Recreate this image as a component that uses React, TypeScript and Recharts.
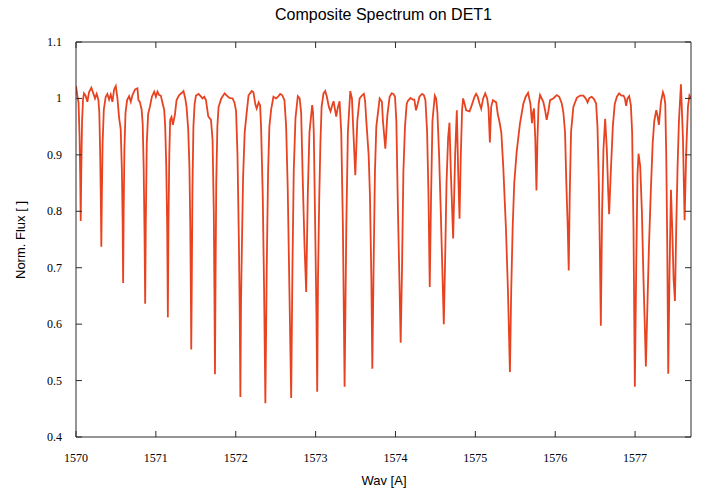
import { LineChart, Line, XAxis, YAxis } from 'recharts'

// [wavelength (A), normalised flux], one block per angstrom
const seg1570 = [
  [1570.0, 1.022], [1570.018, 1.004], [1570.032, 0.992], [1570.045, 0.93], [1570.053, 0.86],
  [1570.059, 0.783], [1570.066, 0.87], [1570.076, 0.96], [1570.088, 0.998], [1570.1, 1.009],
  [1570.12, 1.005], [1570.142, 0.994], [1570.163, 1.011], [1570.192, 1.019], [1570.217, 1.009],
  [1570.238, 1.0], [1570.259, 1.008], [1570.28, 0.998], [1570.292, 0.975], [1570.303, 0.9],
  [1570.311, 0.82], [1570.317, 0.737], [1570.324, 0.83], [1570.333, 0.92], [1570.348, 0.98],
  [1570.372, 1.003], [1570.393, 1.008], [1570.414, 0.998], [1570.435, 1.007], [1570.456, 0.994],
  [1570.477, 1.016], [1570.498, 1.022], [1570.519, 1.0], [1570.54, 0.965], [1570.56, 0.945],
  [1570.575, 0.87], [1570.584, 0.78], [1570.59, 0.673], [1570.597, 0.8], [1570.606, 0.91],
  [1570.62, 0.975], [1570.64, 0.997], [1570.665, 1.004], [1570.686, 0.994], [1570.707, 1.006],
  [1570.74, 1.016], [1570.769, 1.018], [1570.782, 0.997], [1570.799, 0.994], [1570.822, 0.98],
  [1570.835, 0.955], [1570.847, 0.88], [1570.858, 0.76], [1570.866, 0.636], [1570.874, 0.78],
  [1570.886, 0.92], [1570.903, 0.972], [1570.925, 0.985], [1570.95, 1.003], [1570.979, 1.012],
]

const seg1571 = [
  [1571.0, 1.003], [1571.02, 1.012], [1571.041, 1.006], [1571.062, 1.005], [1571.083, 0.992],
  [1571.104, 0.98], [1571.117, 0.95], [1571.13, 0.88], [1571.142, 0.77], [1571.15, 0.612],
  [1571.158, 0.78], [1571.168, 0.9], [1571.179, 0.962], [1571.196, 0.967], [1571.213, 0.953],
  [1571.238, 0.971], [1571.259, 0.997], [1571.292, 1.006], [1571.326, 1.01], [1571.346, 1.013],
  [1571.368, 1.0], [1571.384, 0.985], [1571.405, 0.945], [1571.42, 0.88], [1571.431, 0.77],
  [1571.438, 0.66], [1571.443, 0.555], [1571.45, 0.68], [1571.458, 0.84], [1571.47, 0.95],
  [1571.485, 0.99], [1571.502, 1.005], [1571.535, 1.008], [1571.56, 1.004], [1571.585, 1.0],
  [1571.606, 1.003], [1571.627, 0.997], [1571.656, 0.968], [1571.69, 0.962], [1571.71, 0.926],
  [1571.725, 0.8], [1571.733, 0.66], [1571.74, 0.511], [1571.747, 0.68], [1571.756, 0.85],
  [1571.77, 0.95], [1571.785, 0.985], [1571.819, 1.0], [1571.861, 1.009], [1571.895, 1.004],
  [1571.92, 1.001], [1571.961, 1.0], [1571.985, 0.992],
]

const seg1572 = [
  [1572.004, 0.978], [1572.022, 0.9], [1572.04, 0.74], [1572.05, 0.62], [1572.058, 0.471],
  [1572.066, 0.64], [1572.075, 0.72], [1572.092, 0.86], [1572.112, 0.94], [1572.137, 0.975],
  [1572.16, 1.005], [1572.179, 1.009], [1572.2, 1.013], [1572.221, 1.011], [1572.246, 0.989],
  [1572.262, 0.982], [1572.287, 0.993], [1572.305, 0.988], [1572.317, 0.95], [1572.338, 0.83],
  [1572.355, 0.66], [1572.371, 0.46], [1572.388, 0.7], [1572.405, 0.87], [1572.421, 0.95],
  [1572.443, 0.98], [1572.472, 1.003], [1572.505, 1.0], [1572.53, 1.003], [1572.556, 1.008],
  [1572.581, 1.006], [1572.61, 0.997], [1572.631, 0.95], [1572.651, 0.84], [1572.672, 0.66],
  [1572.694, 0.469], [1572.71, 0.7], [1572.726, 0.87], [1572.748, 0.965], [1572.777, 1.004],
  [1572.8, 1.0], [1572.819, 0.975], [1572.84, 0.85], [1572.861, 0.74], [1572.882, 0.657],
  [1572.902, 0.83], [1572.923, 0.94], [1572.957, 0.988], [1572.968, 0.975], [1572.977, 0.94],
  [1572.995, 0.77],
]

const seg1573 = [
  [1573.01, 0.62], [1573.02, 0.48], [1573.03, 0.68], [1573.045, 0.82], [1573.06, 0.92],
  [1573.075, 0.985], [1573.099, 1.009], [1573.12, 1.013], [1573.141, 1.003], [1573.166, 0.985],
  [1573.187, 0.977], [1573.208, 0.988], [1573.225, 0.995], [1573.241, 0.982], [1573.258, 0.968],
  [1573.28, 0.985], [1573.3, 0.995], [1573.321, 0.94], [1573.342, 0.77], [1573.363, 0.489],
  [1573.384, 0.77], [1573.404, 0.94], [1573.434, 1.013], [1573.455, 1.0], [1573.467, 0.96],
  [1573.497, 0.864], [1573.522, 0.96], [1573.551, 1.0], [1573.585, 1.006], [1573.605, 1.008],
  [1573.62, 0.995], [1573.635, 0.96], [1573.664, 0.9], [1573.68, 0.83], [1573.698, 0.68],
  [1573.71, 0.521], [1573.726, 0.7], [1573.743, 0.87], [1573.76, 0.95], [1573.802, 1.0],
  [1573.83, 0.994], [1573.843, 0.96], [1573.873, 0.911], [1573.898, 0.97], [1573.927, 1.003],
  [1573.952, 1.009], [1573.975, 1.008], [1573.994, 1.003],
]

const seg1574 = [
  [1574.011, 0.96], [1574.031, 0.8], [1574.049, 0.68], [1574.065, 0.567], [1574.082, 0.7],
  [1574.099, 0.87], [1574.119, 0.95], [1574.14, 0.99], [1574.153, 0.995], [1574.187, 1.001],
  [1574.216, 0.998], [1574.236, 0.998], [1574.257, 0.979], [1574.278, 0.99], [1574.3, 1.003],
  [1574.333, 1.008], [1574.355, 1.006], [1574.375, 0.997], [1574.396, 0.94], [1574.413, 0.83],
  [1574.429, 0.666], [1574.446, 0.83], [1574.463, 0.96], [1574.492, 1.005], [1574.509, 1.0],
  [1574.525, 0.975], [1574.546, 0.9], [1574.567, 0.8], [1574.588, 0.69], [1574.605, 0.6],
  [1574.621, 0.71], [1574.639, 0.85], [1574.659, 0.93], [1574.676, 0.957], [1574.693, 0.87],
  [1574.722, 0.752], [1574.747, 0.9], [1574.768, 0.979], [1574.785, 0.87], [1574.802, 0.787],
  [1574.818, 0.9], [1574.834, 0.98], [1574.847, 1.0], [1574.864, 0.991], [1574.885, 0.979],
  [1574.927, 0.977], [1574.948, 0.985], [1574.969, 0.994], [1574.99, 1.003],
]

const seg1575 = [
  [1575.01, 1.008], [1575.03, 1.003], [1575.052, 0.991], [1575.073, 0.982], [1575.098, 1.0],
  [1575.123, 1.009], [1575.148, 1.0], [1575.165, 0.982], [1575.182, 0.922], [1575.198, 0.985],
  [1575.22, 0.997], [1575.24, 0.995], [1575.261, 0.993], [1575.282, 0.971], [1575.3, 0.96],
  [1575.325, 0.94], [1575.349, 0.88], [1575.383, 0.77], [1575.408, 0.66], [1575.433, 0.515],
  [1575.449, 0.66], [1575.467, 0.77], [1575.487, 0.85], [1575.517, 0.905], [1575.558, 0.955],
  [1575.6, 0.99], [1575.63, 1.003], [1575.66, 1.01], [1575.69, 0.99], [1575.709, 0.956],
  [1575.722, 0.975], [1575.734, 0.982], [1575.75, 0.93], [1575.765, 0.837], [1575.778, 0.93],
  [1575.792, 0.99], [1575.81, 1.006], [1575.851, 0.994], [1575.872, 0.98], [1575.893, 0.962],
  [1575.914, 0.977], [1575.935, 0.997], [1575.976, 1.0],
]

const seg1576 = [
  [1576.019, 1.006], [1576.05, 1.003], [1576.082, 0.991], [1576.102, 0.975], [1576.123, 0.94],
  [1576.139, 0.85], [1576.157, 0.77], [1576.169, 0.695], [1576.182, 0.83], [1576.198, 0.94],
  [1576.227, 0.985], [1576.27, 1.001], [1576.311, 1.005], [1576.353, 1.005], [1576.386, 0.999],
  [1576.405, 0.993], [1576.428, 1.001], [1576.457, 1.003], [1576.485, 0.999], [1576.512, 0.991],
  [1576.529, 0.95], [1576.546, 0.85], [1576.558, 0.74], [1576.571, 0.597], [1576.587, 0.8],
  [1576.604, 0.91], [1576.625, 0.964], [1576.646, 0.91], [1576.662, 0.84], [1576.675, 0.795],
  [1576.696, 0.87], [1576.721, 0.95], [1576.745, 0.99], [1576.772, 1.003], [1576.8, 1.009],
  [1576.828, 1.005], [1576.855, 1.005], [1576.872, 1.0], [1576.888, 0.987], [1576.905, 1.0],
  [1576.926, 1.004], [1576.947, 0.988], [1576.963, 0.94], [1576.98, 0.77], [1576.997, 0.489],
]

const seg1577 = [
  [1577.014, 0.7], [1577.03, 0.865], [1577.043, 0.902], [1577.064, 0.88], [1577.085, 0.8],
  [1577.105, 0.68], [1577.123, 0.59], [1577.135, 0.525], [1577.152, 0.62], [1577.173, 0.735],
  [1577.198, 0.84], [1577.22, 0.92], [1577.24, 0.96], [1577.265, 0.979], [1577.28, 0.97],
  [1577.298, 0.953], [1577.324, 0.994], [1577.349, 1.011], [1577.365, 1.004], [1577.378, 0.99],
  [1577.39, 0.9], [1577.402, 0.75], [1577.415, 0.512], [1577.432, 0.7], [1577.449, 0.838],
  [1577.465, 0.77], [1577.482, 0.68], [1577.499, 0.641], [1577.515, 0.77], [1577.532, 0.88],
  [1577.549, 0.96], [1577.574, 1.025], [1577.599, 0.93], [1577.62, 0.784], [1577.641, 0.91],
  [1577.662, 0.985], [1577.68, 1.005], [1577.7, 1.0],
]

const xTicks = [1570, 1571, 1572, 1573, 1574, 1575, 1576, 1577]
const yTicks = [0.4, 0.5, 0.6, 0.7, 0.8, 0.9, 1, 1.1]

const data = [
  ...seg1570, ...seg1571, ...seg1572, ...seg1573,
  ...seg1574, ...seg1575, ...seg1576, ...seg1577,
].map(([wav, flux]) => ({ wav, flux }))

const FRAME = '#2b2b2b'
const SERIF = '"Liberation Serif", "Times New Roman", serif'
const SANS = '"Liberation Sans", Arial, sans-serif'
const TICK_LEN = 6

function BottomTick({ x, y, payload }: any) {
  return (
    <g>
      <line x1={x} x2={x} y1={y} y2={y - TICK_LEN} stroke={FRAME} />
      <text x={x} y={y + 25} textAnchor="middle" fontFamily={SERIF} fontSize={12} fill="#000">
        {payload.value}
      </text>
    </g>
  )
}

function TopTick({ x, y }: any) {
  return <line x1={x} x2={x} y1={y} y2={y + TICK_LEN} stroke={FRAME} />
}

function LeftTick({ x, y, payload }: any) {
  return (
    <g>
      <line x1={x} x2={x + TICK_LEN} y1={y} y2={y} stroke={FRAME} />
      <text x={x - 14} y={y + 4} textAnchor="end" fontFamily={SERIF} fontSize={12} fill="#000">
        {payload.value}
      </text>
    </g>
  )
}

function RightTick({ x, y }: any) {
  return <line x1={x} x2={x - TICK_LEN} y1={y} y2={y} stroke={FRAME} />
}

export default function App() {
  return (
    <div style={{ position: 'absolute', left: 0, top: 0, width: 702, height: 491, background: '#fff' }}>
      <LineChart width={702} height={491} data={data} margin={{ top: 41, right: 10, bottom: 0, left: 0 }}>
        <XAxis
          xAxisId="bottom"
          type="number"
          dataKey="wav"
          domain={[1570, 1577.7]}
          ticks={xTicks}
          allowDataOverflow
          height={54}
          tickSize={0}
          tickMargin={0}
          tickLine={false}
          axisLine={{ stroke: FRAME }}
          tick={BottomTick}
          interval={0}
        />
        <XAxis
          xAxisId="top"
          orientation="top"
          type="number"
          dataKey="wav"
          domain={[1570, 1577.7]}
          ticks={xTicks}
          allowDataOverflow
          height={1}
          tickSize={0}
          tickMargin={0}
          tickLine={false}
          axisLine={{ stroke: FRAME }}
          tick={TopTick}
          interval={0}
        />
        <YAxis
          yAxisId="left"
          type="number"
          domain={[0.4, 1.1]}
          ticks={yTicks}
          allowDataOverflow
          width={76}
          tickSize={0}
          tickMargin={0}
          tickLine={false}
          axisLine={{ stroke: FRAME }}
          tick={LeftTick}
          interval={0}
        />
        <YAxis
          yAxisId="right"
          orientation="right"
          type="number"
          domain={[0.4, 1.1]}
          ticks={yTicks}
          allowDataOverflow
          width={1}
          tickSize={0}
          tickMargin={0}
          tickLine={false}
          axisLine={{ stroke: FRAME }}
          tick={RightTick}
          interval={0}
        />
        <Line
          xAxisId="bottom"
          yAxisId="left"
          type="linear"
          dataKey="flux"
          stroke="#e84321"
          strokeWidth={1.8}
          dot={false}
          isAnimationActive={false}
        />
      </LineChart>
      <div
        style={{
          position: 'absolute', left: 383.5, top: 15, transform: 'translate(-50%, -50%)',
          whiteSpace: 'nowrap', fontFamily: SANS, fontSize: 16, color: '#000',
        }}
      >
        Composite Spectrum on DET1
      </div>
      <div
        style={{
          position: 'absolute', left: 384, top: 480, transform: 'translate(-50%, -50%)',
          whiteSpace: 'nowrap', fontFamily: SANS, fontSize: 13, color: '#000',
        }}
      >
        Wav [A]
      </div>
      <div
        style={{
          position: 'absolute', left: 20, top: 240, transform: 'translate(-50%, -50%) rotate(-90deg)',
          whiteSpace: 'nowrap', fontFamily: SANS, fontSize: 13, color: '#000',
        }}
      >
        Norm. Flux [ ]
      </div>
    </div>
  )
}
